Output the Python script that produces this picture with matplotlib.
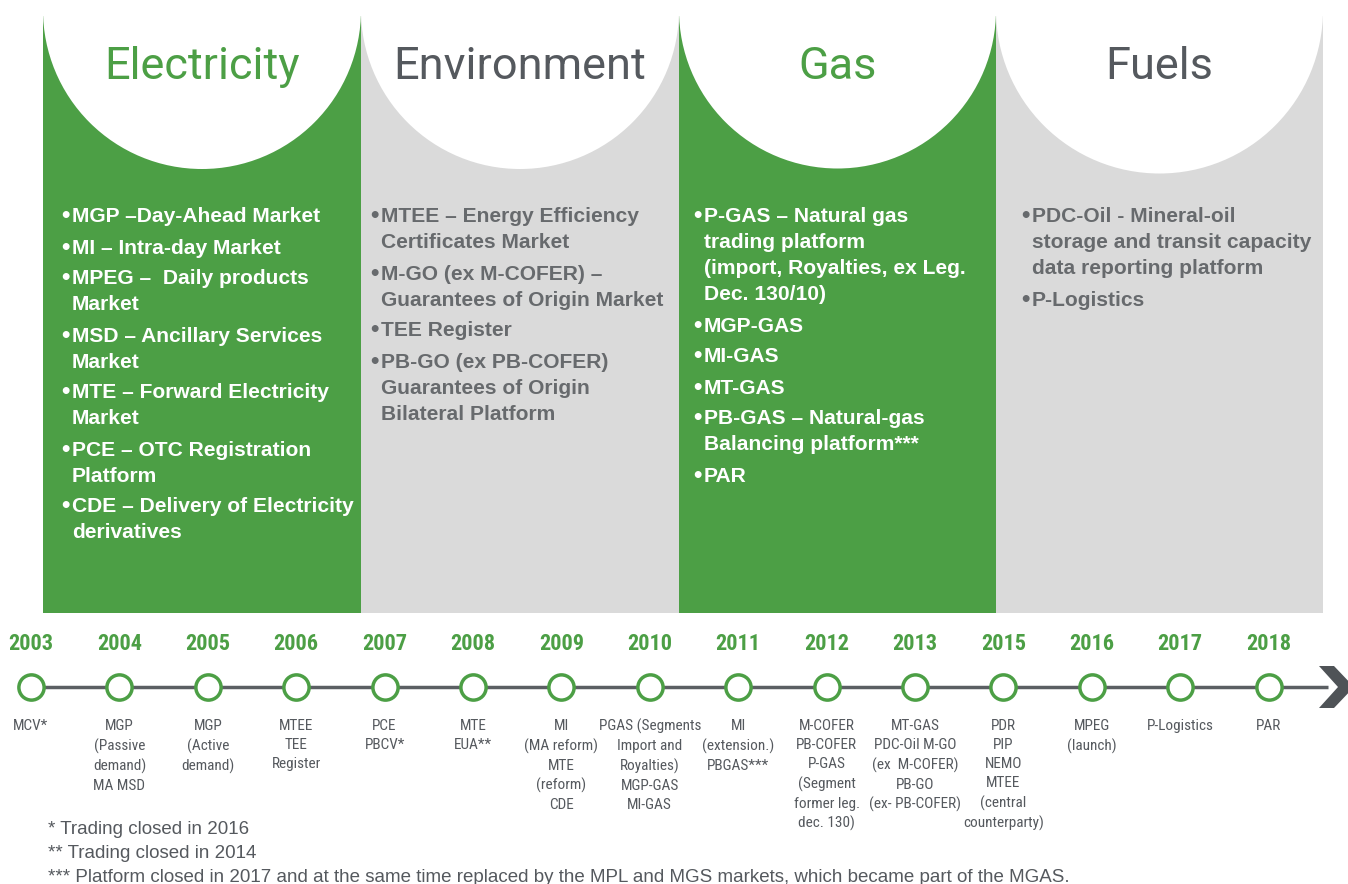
import matplotlib.pyplot as plt
from matplotlib.patches import Rectangle, Circle, Polygon

# Colores
GREEN = "#4c9f45"
GREY_BG = "#dadada"
DARK = "#55595e"
LINE = "#5b5f63"

# Columnas (sectores)
col_titles = ["Electricity", "Environment", "Gas", "Fuels"]
col_edges = [43, 361, 679, 996, 1323]
col_bg = [GREEN, GREY_BG, GREEN, GREY_BG]
col_title_color = [GREEN, DARK, GREEN, DARK]
col_text_color = ["white", "#676a6d", "white", "#676a6d"]
col_bullet_off = [17, 8, 13, 24]

electricity_items = [
    "MGP \u2013Day-Ahead Market",
    "MI \u2013 Intra-day Market",
    "MPEG \u2013  Daily products\nMarket",
    "MSD \u2013 Ancillary Services\nMarket",
    "MTE \u2013 Forward Electricity\nMarket",
    "PCE \u2013 OTC Registration\nPlatform",
    "CDE \u2013 Delivery of Electricity\nderivatives",
]
environment_items = [
    "MTEE \u2013 Energy Efficiency\nCertificates Market",
    "M-GO (ex M-COFER) \u2013\nGuarantees of Origin Market",
    "TEE Register",
    "PB-GO (ex PB-COFER)\nGuarantees of Origin\nBilateral Platform",
]
gas_items = [
    "P-GAS \u2013 Natural gas\ntrading platform\n(import, Royalties, ex Leg.\nDec. 130/10)",
    "MGP-GAS",
    "MI-GAS",
    "MT-GAS",
    "PB-GAS \u2013 Natural-gas\nBalancing platform***",
    "PAR",
]
fuels_items = [
    "PDC-Oil - Mineral-oil\nstorage and transit capacity\ndata reporting platform",
    "P-Logistics",
]
col_items = [electricity_items, environment_items, gas_items, fuels_items]

# Linea de tiempo
years = ["2003", "2004", "2005", "2006", "2007", "2008", "2009", "2010",
         "2011", "2012", "2013", "2015", "2016", "2017", "2018"]
events = [
    "MCV*",
    "MGP\n(Passive\ndemand)\nMA MSD",
    "MGP\n(Active\ndemand)",
    "MTEE\nTEE\nRegister",
    "PCE\nPBCV*",
    "MTE\nEUA**",
    "MI\n(MA reform)\nMTE\n(reform)\nCDE",
    "PGAS (Segments\nImport and\nRoyalties)\nMGP-GAS\nMI-GAS",
    "MI\n(extension.)\nPBGAS***",
    "M-COFER\nPB-COFER\nP-GAS\n(Segment\nformer leg.\ndec. 130)",
    "MT-GAS\nPDC-Oil M-GO\n(ex  M-COFER)\nPB-GO\n(ex- PB-COFER)",
    "PDR\nPIP\nNEMO\nMTEE\n(central\ncounterparty)",
    "MPEG\n(launch)",
    "P-Logistics",
    "PAR",
]

footnotes = [
    "* Trading closed in 2016",
    "** Trading closed in 2014",
    "*** Platform closed in 2017 and at the same time replaced by the MPL and MGS markets, which became part of the MGAS.",
]

NARROW = ["Liberation Sans Narrow", "Roboto Condensed", "Liberation Sans"]

fig = plt.figure(figsize=(13.48, 8.84), dpi=100)
ax = fig.add_axes([0, 0, 1, 1])
ax.set_xlim(0, 1348)
ax.set_ylim(884, 0)
ax.axis("off")

top, bottom = 16, 613
for i, title in enumerate(col_titles):
    x0, x1 = col_edges[i], col_edges[i + 1]
    cx = (x0 + x1) / 2
    r = (x1 - x0) / 2
    ax.add_patch(Rectangle((x0, top), x1 - x0, bottom - top, facecolor=col_bg[i],
                           edgecolor="none", zorder=1))
    ax.add_patch(Circle((cx, 10), r, facecolor="white", edgecolor="none", zorder=2))
    ax.add_patch(Rectangle((x0 - 5, 0), x1 - x0 + 10, top, facecolor="white",
                           edgecolor="none", zorder=2))
    ax.text(cx, 67, title, ha="center", va="center", fontsize=32.5,
            color=col_title_color[i], family="Roboto", zorder=3)

    # viñetas
    y = 217
    bx = x0 + col_bullet_off[i]
    for item in col_items[i]:
        lines = item.split("\n")
        ax.text(bx - 1, y, "\u2022", ha="left", va="center", fontsize=14,
                color=col_text_color[i], fontweight="bold", zorder=3)
        for j, ln in enumerate(lines):
            ax.text(bx + 12, y + 26 * j, ln, ha="left", va="center", fontsize=15.1,
                    color=col_text_color[i], fontweight="bold",
                    family="Liberation Sans", zorder=3)
        y += 26 * (len(lines) - 1) + 31

# linea de tiempo
xs = [31 + 88.4 * k for k in range(len(years))]
ax.plot([18, 1328], [687, 687], color=LINE, lw=2.5, zorder=2, solid_capstyle="butt")
ax.add_patch(Polygon([(1319, 666), (1334, 666), (1354, 687), (1334, 708),
                      (1319, 708), (1338, 687)], closed=True,
                     facecolor="#4f5357", edgecolor="none", zorder=3))
ax.scatter(xs, [687] * len(xs), s=330, facecolor="white", edgecolor=GREEN,
           linewidths=2.5, zorder=4)
for x, yr, ev in zip(xs, years, events):
    ax.text(x, 644, yr, ha="center", va="center", fontsize=16, fontweight="bold",
            color=GREEN, family=NARROW)
    ax.text(x, 719, ev, ha="center", va="top", fontsize=11, color=DARK,
            family=NARROW, linespacing=1.45)

for k, fn in enumerate(footnotes):
    ax.text(48, 830 + 24 * k, fn, ha="left", va="center", fontsize=13.5,
            color=DARK, family="Liberation Sans")

fig.savefig("out.png", dpi=100)
